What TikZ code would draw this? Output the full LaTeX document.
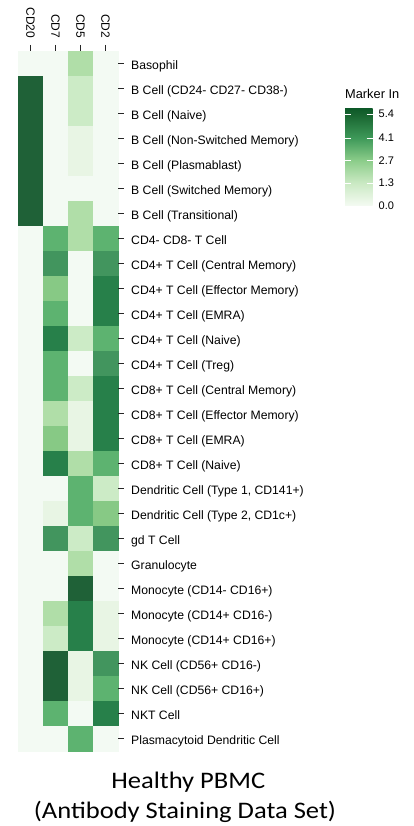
\documentclass[tikz,border=0pt]{standalone}
\usepackage{fontspec}
\setmainfont{Liberation Sans}
\newfontfamily\titlefont{Carlito}

% heatmap colour levels (light to dark)
\definecolor{g0}{HTML}{F3FAF3}
\definecolor{g1}{HTML}{E8F5E4}
\definecolor{g2}{HTML}{CCEBC6}
\definecolor{g3}{HTML}{B0DEA8}
\definecolor{g4}{HTML}{87C985}
\definecolor{g5}{HTML}{5DB370}
\definecolor{g6}{HTML}{42955E}
\definecolor{g7}{HTML}{27804A}
\definecolor{g8}{HTML}{1F6137}

% colour bar stops
\definecolor{cb0}{HTML}{F5FBF3}
\definecolor{cb1}{HTML}{CAE9C3}
\definecolor{cb2}{HTML}{8CCD8A}
\definecolor{cb3}{HTML}{3E9959}
\definecolor{cb4}{HTML}{17632F}
\definecolor{cb5}{HTML}{0E5A29}
\pgfdeclareverticalshading{greensbar}{100bp}{color(0bp)=(cb0); color(25bp)=(cb0); color(36.9bp)=(cb1); color(48.4bp)=(cb2); color(60bp)=(cb3); color(72.4bp)=(cb4); color(75bp)=(cb5); color(100bp)=(cb5)}

\tikzset{
  rowlabel/.style={anchor=base west, inner sep=0pt, font=\fontsize{12.2}{14}\selectfont},
  collabel/.style={anchor=east, rotate=-90, inner sep=0pt, font=\fontsize{12}{14}\selectfont},
  axtick/.style={draw=black!85, line width=0.8pt},
  cbtick/.style={draw=white, line width=0.8pt},
  cblabel/.style={anchor=base west, inner sep=0pt, font=\fontsize{11}{13}\selectfont},
  titletext/.style={anchor=base, inner sep=0pt, font=\titlefont\fontsize{23.7}{28}\selectfont}
}

\begin{document}
\begin{tikzpicture}[x=1pt,y=-1pt]
\useasboundingbox (0,0) rectangle (414,826);
\fill[white] (0,0) rectangle (414,826);

% heatmap cells and row labels
\foreach \lab/\a/\b/\c/\d [count=\i] in {
  {Basophil}/0/0/3/0,
  {B Cell (CD24- CD27- CD38-)}/8/0/2/0,
  {B Cell (Naive)}/8/0/2/0,
  {B Cell (Non-Switched Memory)}/8/0/1/0,
  {B Cell (Plasmablast)}/8/0/1/0,
  {B Cell (Switched Memory)}/8/0/0/0,
  {B Cell (Transitional)}/8/0/3/0,
  {CD4- CD8- T Cell}/0/5/3/5,
  {CD4+ T Cell (Central Memory)}/0/6/0/6,
  {CD4+ T Cell (Effector Memory)}/0/4/0/7,
  {CD4+ T Cell (EMRA)}/0/5/0/7,
  {CD4+ T Cell (Naive)}/0/7/2/5,
  {CD4+ T Cell (Treg)}/0/5/0/6,
  {CD8+ T Cell (Central Memory)}/0/5/2/7,
  {CD8+ T Cell (Effector Memory)}/0/3/1/7,
  {CD8+ T Cell (EMRA)}/0/4/1/7,
  {CD8+ T Cell (Naive)}/0/7/3/5,
  {Dendritic Cell (Type 1, CD141+)}/0/0/5/2,
  {Dendritic Cell (Type 2, CD1c+)}/0/1/5/4,
  {gd T Cell}/0/6/2/6,
  {Granulocyte}/0/0/3/0,
  {Monocyte (CD14- CD16+)}/0/0/8/0,
  {Monocyte (CD14+ CD16-)}/0/3/7/1,
  {Monocyte (CD14+ CD16+)}/0/2/7/1,
  {NK Cell (CD56+ CD16-)}/0/8/1/6,
  {NK Cell (CD56+ CD16+)}/0/8/1/5,
  {NKT Cell}/0/5/0/7,
  {Plasmacytoid Dendritic Cell}/0/0/5/0} {
  \pgfmathsetmacro\yt{50.7+25*(\i-1)}
  \pgfmathsetmacro\yc{\yt+12.5}
  \filldraw[fill=g\a, draw=g\a, line width=0.3pt] (18,\yt) rectangle ++(25,25);
  \filldraw[fill=g\b, draw=g\b, line width=0.3pt] (43,\yt) rectangle ++(25,25);
  \filldraw[fill=g\c, draw=g\c, line width=0.3pt] (68,\yt) rectangle ++(25,25);
  \filldraw[fill=g\d, draw=g\d, line width=0.3pt] (93,\yt) rectangle ++(25,25);
  \coordinate (rt\i) at (118,\yc);
  \coordinate (rl\i) at (123.5,\yc);
  \draw[axtick] (rt\i) -- (rl\i);
  \node[rowlabel] (row\i) at (131,\yc+6) {\lab};
}

% column labels and ticks
\foreach \lab [count=\j] in {CD20,CD7,CD5,CD2} {
  \pgfmathsetmacro\xc{30.5+25*(\j-1)}
  \coordinate (ct\j) at (\xc,45);
  \coordinate (cb\j) at (\xc,50.7);
  \draw[axtick] (ct\j) -- (cb\j);
  \node[collabel] (col\j) at (\xc,38.5) {\lab};
}

% colour bar
\shade[shading=greensbar] (345,109) rectangle (372.7,206);
\node[anchor=base west, inner sep=0pt, font=\fontsize{12.8}{15}\selectfont] (cbtitle) at (345,99) {Marker In};
\foreach \v/\y [count=\k] in {5.4/114,4.1/138,2.7/160.7,1.3/183,0.0/206} {
  \coordinate (cl\k) at (345,\y);
  \coordinate (cm\k) at (351,\y);
  \coordinate (cn\k) at (366.7,\y);
  \coordinate (cr\k) at (372.7,\y);
  \draw[cbtick] (cl\k) -- (cm\k);
  \draw[cbtick] (cn\k) -- (cr\k);
  \node[cblabel] (cv\k) at (378.5,\y+4) {\v};
}

% title
\node[titletext] (title1) at (188.3,788.3) {\scalebox{1.12}[1]{Healthy PBMC}};
\node[titletext] (title2) at (185,818.3) {\scalebox{1.12}[1]{(Antibody Staining Data Set)}};
\end{tikzpicture}
\end{document}
